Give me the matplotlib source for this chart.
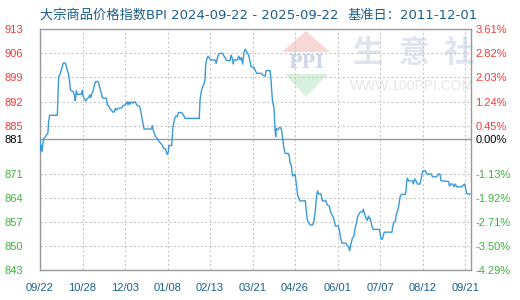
import matplotlib
matplotlib.use("Agg")
import matplotlib.pyplot as plt
from matplotlib.patches import Polygon

# ---------------- data ----------------
title_left = "大宗商品价格指数BPI 2024-09-22 - 2025-09-22"
title_right = "基准日：2011-12-01"

base_value = 881

day = [0.0, 0.6, 1.1, 1.7, 2.5, 3.1, 4.5, 5.4, 6.5, 6.8, 7.3, 8.2,
       14.7, 15.2, 15.8, 16.9, 18.1, 19.2, 19.8, 21.5, 22.3, 23.1, 24.3, 25.1,
       25.7, 26.5, 28.2, 29.4, 29.9, 30.8, 31.6, 35.0, 35.9, 36.4, 37.3, 38.7,
       40.1, 41.2, 42.1, 42.9, 44.0, 45.2, 46.3, 47.1, 49.1, 50.0, 50.8, 52.0,
       52.8, 56.2, 57.0, 58.2, 59.0, 60.4, 61.8, 62.7, 63.8, 64.9, 66.1, 69.4,
       70.3, 71.7, 73.1, 74.0, 74.5, 75.4, 76.2, 77.3, 78.8, 79.6, 80.7, 81.9,
       83.0, 84.4, 85.2, 86.4, 87.5, 88.1, 94.3, 95.1, 95.6, 96.8, 97.9, 99.6,
       100.8, 102.5, 103.6, 104.7, 106.4, 107.0, 107.8, 108.7, 109.2, 111.5,
       112.6, 114.1, 115.2, 116.3, 117.2, 120.0, 121.4, 122.8, 134.9, 135.5,
       136.6, 137.8, 138.9, 139.7, 140.3, 141.2, 142.3, 143.4, 144.5, 148.2,
       149.1, 150.2, 151.3, 152.4, 154.7, 155.8, 157.0, 158.1, 160.9, 161.8,
       163.2, 163.7, 164.3, 167.1, 168.3, 169.4, 170.5, 171.6, 172.8, 173.9,
       175.6, 176.7, 177.9, 178.7, 181.2, 182.1, 183.5, 187.5, 188.6, 190.8,
       191.4, 194.8, 195.6, 196.8, 198.2, 199.0, 199.6, 199.9, 201.0, 202.1,
       203.3, 204.4, 205.5, 206.3, 207.2, 207.8, 210.3, 211.2, 211.7, 212.8,
       213.4, 214.0, 215.1, 216.0, 216.5, 217.4, 218.2, 219.1, 220.2, 224.7,
       225.3, 226.4, 227.5, 228.7, 230.9, 232.0, 233.2, 234.3, 235.1, 236.0,
       238.0, 239.1, 242.2, 243.3, 245.0, 246.2, 247.3, 248.4, 249.3, 250.1,
       252.6, 253.5, 254.6, 255.8, 259.1, 260.3, 261.4, 262.2, 263.4, 264.5,
       265.9, 266.8, 267.9, 269.0, 270.4, 271.6, 273.3, 273.8, 274.9, 276.1,
       277.2, 278.1, 278.9, 279.5, 280.3, 281.2, 282.3, 287.4, 288.0, 288.8,
       289.9, 290.8, 291.6, 298.1, 298.7, 299.8, 300.9, 301.5, 302.6, 303.7,
       304.3, 304.9, 306.0, 309.4, 310.0, 310.5, 311.1, 312.2, 315.6, 316.2,
       317.3, 318.4, 319.6, 321.8, 322.7, 323.8, 324.6, 326.3, 327.5, 331.4,
       332.3, 335.9, 337.3, 338.7, 339.6, 346.1, 346.7, 347.8, 349.5, 350.6,
       351.7, 352.9, 357.1, 358.5, 359.6, 360.5, 361.3, 362.2, 364.2]

bpi = [881.0, 877.8, 879.3, 877.4, 879.8, 881.2, 881.7, 882.3, 882.6, 883.3, 886.1, 888.0,
       888.0, 893.7, 899.2, 899.9, 901.2, 902.6, 903.2, 903.2, 902.1, 901.2, 899.7, 897.8,
       895.5, 895.1, 894.9, 893.4, 892.2, 895.1, 894.1, 894.1, 895.3, 893.7, 892.9, 892.2,
       892.9, 893.1, 893.9, 893.1, 894.4, 895.4, 897.0, 897.8, 897.8, 897.0, 895.8, 894.4,
       893.1, 892.9, 891.0, 890.8, 890.0, 889.5, 888.9, 888.9, 890.0, 889.5, 890.0, 890.2,
       890.8, 891.0, 891.5, 891.9, 891.0, 891.9, 891.2, 891.9, 891.5, 891.9, 891.9, 891.0,
       890.8, 890.5, 889.5, 887.1, 885.2, 884.0, 884.0, 885.0, 884.0, 882.7, 881.8, 881.1,
       880.3, 879.8, 879.2, 878.4, 878.2, 877.2, 876.6, 877.4, 879.2, 879.2,
       884.7, 887.1, 887.8, 887.6, 888.8, 888.8, 888.1, 887.1, 887.1, 892.3,
       894.9, 896.3, 897.1, 898.3, 902.6, 904.3, 905.2, 904.6, 904.1, 904.1,
       903.1, 904.6, 905.8, 906.0, 906.0, 905.2, 904.6, 903.9, 903.9, 905.5,
       904.1, 902.9, 904.1, 904.1, 905.2, 904.1, 904.8, 902.9, 906.5, 907.2,
       906.2, 905.5, 903.6, 902.1, 901.9, 901.2, 900.2, 900.2, 899.7, 899.4,
       901.0, 901.0, 898.3, 892.4, 890.0, 884.2, 881.8, 884.2, 883.7, 884.2,
       884.5, 884.0, 881.5, 879.0, 877.4, 876.9, 876.9, 876.0, 874.2, 873.5,
       871.6, 870.3, 870.6, 870.9, 869.4, 867.2, 864.8, 863.8, 863.1, 863.1,
       860.9, 857.5, 856.8, 856.1, 856.1, 857.1, 860.5, 864.8, 866.0, 865.1,
       865.1, 863.1, 863.1, 861.9, 861.6, 859.7, 859.0, 858.3, 857.1, 855.8,
       855.8, 854.6, 852.2, 850.8, 850.8, 850.0, 849.8, 848.6, 850.6, 852.2,
       852.9, 855.1, 856.6, 858.5, 859.5, 859.9, 859.9, 860.7, 859.3, 858.0,
       857.4, 858.7, 858.0, 858.0, 857.1, 855.6, 854.8, 854.8, 853.7, 852.0,
       852.0, 853.2, 854.0, 854.0, 855.6, 856.9, 857.1, 858.7, 860.0, 861.4,
       862.9, 864.3, 865.0, 865.0, 866.1, 868.7, 869.7, 868.9, 868.9, 868.0,
       869.5, 869.0, 868.0, 868.0, 869.4, 871.4, 871.9, 871.9, 870.9, 870.9,
       870.1, 870.1, 870.9, 870.9, 869.0, 868.7, 867.4, 868.0, 868.0, 867.2,
       868.0, 867.2, 867.2, 867.7, 868.0, 866.5, 865.3, 865.1, 865.1]

x_tick_pos = [0, 36, 72, 108, 144, 180, 216, 252, 288, 324, 360]
x_tick_labels = ["09/22", "10/28", "12/03", "01/08", "02/13", "03/21",
                 "04/26", "06/01", "07/07", "08/12", "09/21"]

y_ticks = [913, 906, 899, 892, 885, 881, 871, 864, 857, 850, 843]
pct_labels = ["3.61%", "2.82%", "2.03%", "1.24%", "0.45%", "0.00%",
              "-1.13%", "-1.92%", "-2.71%", "-3.50%", "-4.29%"]

# ---------------- style ----------------
W, H = 520, 300
RED, GREEN, BLACK = "#f03c3c", "#3cb43c", "#000000"
BLUE_TXT = "#1b5e8c"
LINE_C = "#3a9ad9"
SPINE_C = "#999999"
GRID_C = "#c8c8c8"

fig = plt.figure(figsize=(W / 100, H / 100), dpi=100)
fig.patch.set_facecolor("white")

def fx(px):
    return px / W

def fy(py):
    return 1 - py / H

ax = fig.add_axes([fx(40), fy(270), fx(471) - fx(40), fy(29.3) - fy(270)])
ax.patch.set_alpha(0)

# watermark (behind grid)
wm_kw = dict(transform=fig.transFigure, clip_on=False, zorder=0.2)
ax.add_patch(Polygon([(fx(306), fy(31)), (fx(282), fy(52)), (fx(330), fy(52))],
                     closed=True, facecolor="#f7d8d4", edgecolor="none", **wm_kw))
ax.add_patch(Polygon([(fx(285), fy(74)), (fx(328), fy(74)), (fx(306), fy(97))],
                     closed=True, facecolor="#d8f0de", edgecolor="none", **wm_kw))
ax.text(fx(306), fy(63), "PPI", ha="center", va="center", fontsize=13,
        family="DejaVu Serif", weight="bold", color="#cdd6e8", **wm_kw)
for cx, ch in zip([367.5, 414, 459], "生意社"):
    ax.text(fx(cx), fy(53), ch, ha="center", va="center", fontsize=22,
            family=["Noto Sans CJK SC"], weight="bold", color="#dfe4ef", **wm_kw)
ax.text(fx(412), fy(86), "WWW.100PPI.COM", ha="center", va="center", fontsize=10,
        family="Liberation Sans", color="#e6e6e6", **wm_kw)

# data line
ax.plot(day, bpi, color=LINE_C, lw=1.0, zorder=3)
ax.axhline(base_value, color=SPINE_C, lw=1.0, zorder=2)

ax.set_xlim(0, 365)
ax.set_ylim(min(y_ticks), max(y_ticks))

ax.set_xticks(x_tick_pos)
ax.set_xticklabels(x_tick_labels, family="Liberation Sans", fontsize=8, color=BLUE_TXT)
ax.set_yticks(y_ticks)
ax.set_yticklabels([str(v) for v in y_ticks], family="Liberation Sans", fontsize=8)
ax.tick_params(axis="x", length=0, pad=9.5)
ax.tick_params(axis="y", length=0, pad=12)

def tick_color(v):
    if v > base_value:
        return RED
    if v < base_value:
        return GREEN
    return BLACK

for lab, v in zip(ax.get_yticklabels(), y_ticks):
    lab.set_color(tick_color(v))

ax.grid(True, color=GRID_C, linestyle=(0, (2, 2)), lw=0.8)
for gl, v in zip(ax.yaxis.get_gridlines(), y_ticks):
    if v == base_value:
        gl.set_visible(False)
for s in ax.spines.values():
    s.set_color(SPINE_C)
    s.set_linewidth(1.0)

ax2 = ax.twinx()
ax2.set_ylim(ax.get_ylim())
ax2.set_yticks(y_ticks)
ax2.set_yticklabels(pct_labels, family="Liberation Sans", fontsize=8)
ax2.tick_params(axis="y", length=0, pad=3)
for lab, v in zip(ax2.get_yticklabels(), y_ticks):
    lab.set_color(tick_color(v))
for s in ax2.spines.values():
    s.set_visible(False)

title_fam = ["DejaVu Sans", "Noto Sans CJK SC"]
fig.text(fx(40), fy(15), title_left, ha="left", va="center", fontsize=9.5,
         family=title_fam, color=BLUE_TXT)
fig.text(fx(348), fy(15), title_right, ha="left", va="center", fontsize=9.5,
         family=title_fam, color=BLUE_TXT)

fig.savefig("out.png", dpi=100, facecolor="white")
